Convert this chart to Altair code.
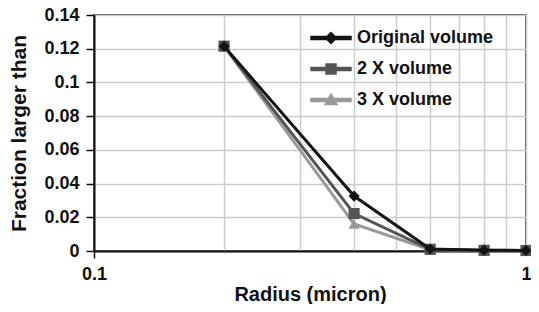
import altair as alt
import pandas as pd

radius = [0.2, 0.4, 0.6, 0.8, 1.0]
series_names = ["Original volume", "2 X volume", "3 X volume"]
original = [0.1215, 0.0326, 0.0012, 0.0005, 0.0003]
two_x = [0.1215, 0.0222, 0.0010, 0.0004, 0.0003]
three_x = [0.1215, 0.0160, 0.0008, 0.0003, 0.0002]
colors = ["#141414", "#555555", "#999999"]
shapes = ["diamond", "square", "triangle-up"]
y_ticks = [0, 0.02, 0.04, 0.06, 0.08, 0.1, 0.12, 0.14]
x_ticks = [0.1, 0.2, 0.3, 0.4, 0.5, 0.6, 0.7, 0.8, 0.9, 1.0]

rows = []
for name, shp, vals in zip(series_names, shapes, [original, two_x, three_x]):
    for r, v in zip(radius, vals):
        rows.append({"radius": r, "fraction": v, "series": name, "marker": shp})
df = pd.DataFrame(rows)

# legend symbols: line segment + marker (custom path, unit = 10px)
legend_paths = [
    "M-2,-0.15H2V0.15H-2Z M0,-0.55L0.55,0L0,0.55L-0.55,0Z",
    "M-2,-0.15H2V0.15H-2Z M-0.5,-0.5H0.5V0.5H-0.5Z",
    "M-2,-0.15H2V0.15H-2Z M0,-0.6L0.6,0.45H-0.6Z",
]
shape_expr = (
    f"datum.value === '{series_names[0]}' ? '{legend_paths[0]}' : "
    f"datum.value === '{series_names[1]}' ? '{legend_paths[1]}' : '{legend_paths[2]}'"
)

FONT = "Liberation Sans"

x_enc = alt.X(
    "radius:Q",
    scale=alt.Scale(type="log", domain=[0.1, 1], nice=False),
    axis=alt.Axis(
        title="Radius (micron)",
        values=x_ticks,
        format="~g",
        labelExpr="(datum.value == 0.1 || datum.value == 1) ? datum.label : ''",
        labelFlush=False,
        labelOverlap=False,
        tickOpacity={"condition": {"test": "datum.value == 0.1", "value": 1}, "value": 0},
        tickSize=7,
        labelPadding=7,
        titlePadding=1,
        titleFontSize=20,
    ),
)
y_enc = alt.Y(
    "fraction:Q",
    scale=alt.Scale(domain=[0, 0.14], nice=False),
    axis=alt.Axis(
        title="Fraction larger than",
        values=y_ticks,
        format="~g",
        tickSize=8,
        labelPadding=7,
        titlePadding=14,
    ),
)
color_scale = alt.Scale(domain=series_names, range=colors)

legend = alt.Legend(
    title=None,
    orient="none",
    legendX=226,
    legendY=12,
    symbolSize=400,
    symbolType={"expr": shape_expr},
    symbolStrokeColor="transparent",
    symbolOpacity=1,
    labelOffset=15,
    rowPadding=11,
    labelFont=FONT,
    labelFontSize=18,
    labelFontWeight="bold",
    labelColor="#111111",
)

layers = []
for name in reversed(series_names):
    sub = alt.Chart(df).transform_filter(alt.datum.series == name)
    line = sub.mark_line(strokeWidth=3).encode(
        x=x_enc,
        y=y_enc,
        color=alt.Color("series:N", scale=color_scale, legend=legend),
    )
    pts = sub.mark_point(filled=True, size=125, opacity=1).encode(
        x=x_enc,
        y=y_enc,
        color=alt.Color("series:N", scale=color_scale, legend=legend),
        shape=alt.Shape("marker:N", scale=None, legend=None),
    )
    layers += [line, pts]

chart = (
    alt.layer(*layers)
    .properties(
        width=432,
        height=236,
        autosize=alt.AutoSizeParams(type="none"),
        padding={"left": 86, "top": 7, "right": 5, "bottom": 53},
    )
    .configure(font=FONT)
    .configure_view(stroke="#222222", strokeWidth=1.5)
    .configure_axis(
        labelFont=FONT,
        labelFontSize=18,
        labelFontWeight="bold",
        labelColor="#111111",
        titleFont=FONT,
        titleFontSize=21,
        titleFontWeight="bold",
        titleColor="#111111",
        domainColor="#111111",
        domainWidth=2,
        tickColor="#111111",
        tickWidth=1.5,
        gridColor="#cccccc",
        gridWidth=1.5,
        grid=True,
    )
)

chart.save("out.html", embed_options={"renderer": "svg", "actions": False})
